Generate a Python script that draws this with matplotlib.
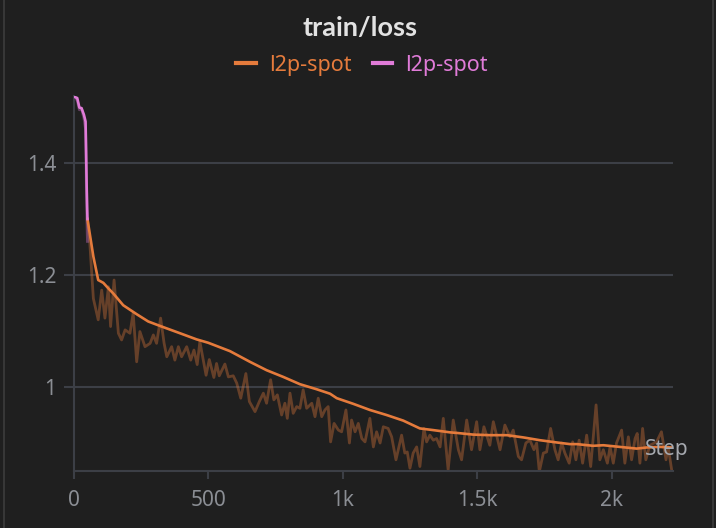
import matplotlib
matplotlib.use('Agg')
import matplotlib.pyplot as plt
from matplotlib.lines import Line2D

# run 1 (pink) - first few steps only
pink_steps = [2, 12, 20, 28, 37, 43, 45, 47, 50]
pink_smooth = [1.518, 1.516, 1.499, 1.498, 1.486, 1.474, 1.42, 1.36, 1.30]
pink_raw = [1.518, 1.512, 1.495, 1.497, 1.48, 1.46, 1.40, 1.32, 1.26]

# run 2 (orange) - smoothed line
orange_steps = [50, 72, 90, 109, 128, 146, 183, 233, 276, 320, 394, 456, 499, 580, 654,
                716, 778, 840, 902, 952, 977, 1038, 1100, 1162, 1224, 1286, 1336, 1398,
                1423, 1484, 1546, 1609, 1670, 1732, 1794, 1844, 1869, 1930, 1968, 2030,
                2092, 2129, 2178, 2222]
orange_smooth = [1.30, 1.233, 1.191, 1.186, 1.176, 1.167, 1.146, 1.130, 1.117, 1.109, 1.096,
                 1.085, 1.079, 1.064, 1.045, 1.030, 1.018, 1.005, 0.996, 0.988, 0.980, 0.970,
                 0.959, 0.950, 0.940, 0.926, 0.923, 0.919, 0.918, 0.915, 0.914, 0.914, 0.910,
                 0.905, 0.901, 0.898, 0.898, 0.895, 0.896, 0.893, 0.890, 0.892, 0.893, 0.892]

# run 2 (orange) - raw values
raw_steps = [50, 59, 72, 90, 103, 115, 128, 136, 149, 165, 177, 190, 208, 220, 233, 245, 264,
             283, 295, 307, 322, 335, 345, 363, 375, 388, 400, 419, 434, 446, 458, 468, 491,
             503, 520, 530, 540, 561, 574, 592, 605, 620, 639, 652, 673, 689, 704, 716, 731,
             743, 756, 772, 784, 793, 803, 815, 828, 840, 852, 865, 884, 896, 908, 921, 933,
             945, 954, 967, 983, 995, 1011, 1024, 1032, 1045, 1057, 1070, 1082, 1100, 1113,
             1125, 1138, 1150, 1168, 1181, 1197, 1218, 1230, 1239, 1249, 1261, 1274, 1286,
             1301, 1311, 1323, 1336, 1348, 1361, 1373, 1391, 1410, 1429, 1441, 1460, 1478,
             1497, 1509, 1524, 1546, 1559, 1584, 1602, 1621, 1633, 1652, 1664, 1680, 1695,
             1710, 1720, 1730, 1745, 1757, 1772, 1788, 1800, 1813, 1825, 1841, 1854, 1866,
             1878, 1891, 1906, 1921, 1941, 1955, 1968, 1983, 1993, 2005, 2017, 2036, 2048,
             2061, 2073, 2086, 2094, 2104, 2114, 2126, 2141, 2166, 2184, 2201, 2209, 2222]
raw_vals = [1.30, 1.255, 1.158, 1.120, 1.173, 1.123, 1.179, 1.108, 1.191, 1.096, 1.084, 1.102,
            1.096, 1.132, 1.045, 1.099, 1.072, 1.078, 1.093, 1.078, 1.123, 1.078, 1.054, 1.072,
            1.048, 1.072, 1.054, 1.072, 1.048, 1.066, 1.040, 1.081, 1.021, 1.049, 1.017, 1.042,
            1.020, 1.041, 1.018, 1.020, 1.007, 0.980, 1.024, 0.974, 0.956, 0.974, 0.989, 0.971,
            1.013, 0.977, 0.986, 0.950, 0.971, 0.944, 0.989, 0.953, 0.965, 0.962, 0.995, 0.962,
            0.971, 0.947, 0.980, 0.947, 0.959, 0.965, 0.902, 0.935, 0.923, 0.920, 0.959, 0.900,
            0.941, 0.920, 0.935, 0.908, 0.902, 0.944, 0.893, 0.920, 0.900, 0.929, 0.926, 0.911,
            0.870, 0.914, 0.882, 0.884, 0.855, 0.882, 0.893, 0.858, 0.926, 0.902, 0.914, 0.905,
            0.908, 0.893, 0.944, 0.852, 0.941, 0.888, 0.870, 0.941, 0.888, 0.938, 0.888, 0.929,
            0.896, 0.938, 0.888, 0.932, 0.911, 0.923, 0.876, 0.870, 0.900, 0.905, 0.888, 0.900,
            0.849, 0.882, 0.884, 0.926, 0.888, 0.870, 0.900, 0.882, 0.864, 0.902, 0.870, 0.905,
            0.864, 0.914, 0.858, 0.968, 0.870, 0.888, 0.864, 0.893, 0.864, 0.900, 0.923, 0.864,
            0.911, 0.870, 0.908, 0.917, 0.864, 0.926, 0.870, 0.896, 0.902, 0.920, 0.870, 0.893,
            0.852]

yticks = [1.0, 1.2, 1.4]
ytick_labels = ['1', '1.2', '1.4']
xticks = [0, 500, 1000, 1500, 2000]
xtick_labels = ['0', '500', '1k', '1.5k', '2k']

bg = '#1f1f1f'
grid_c = '#3c3f46'
label_c = '#8b8e94'
orange = '#e57b3c'
pink = '#e07bd8'

plt.rcParams['font.family'] = ['Noto Sans', 'DejaVu Sans']

fig = plt.figure(figsize=(7.16, 5.28), dpi=100, facecolor=bg)
ax = fig.add_axes([74/716, 57/528, 599/716, 375.2/528], facecolor=bg)

ax.plot(raw_steps, raw_vals, color=orange, alpha=0.36, lw=2.0, zorder=2)
ax.plot(pink_steps, pink_raw, color=pink, alpha=0.36, lw=2.0, zorder=2)
ax.plot(orange_steps, orange_smooth, color=orange, lw=1.9, zorder=3)
ax.plot(pink_steps, pink_smooth, color=pink, lw=1.9, zorder=3)

ax.set_xlim(0, 2227)
ax.set_ylim(0.85, 1.52)
ax.set_yticks(yticks)
ax.set_yticklabels(ytick_labels)
ax.set_xticks(xticks)
ax.set_xticklabels(xtick_labels)
ax.yaxis.grid(True, color=grid_c, lw=1.5, zorder=1)
ax.set_axisbelow(True)
for s in ['top', 'right']:
    ax.spines[s].set_visible(False)
for s in ['left', 'bottom']:
    ax.spines[s].set_color(grid_c)
    ax.spines[s].set_linewidth(1.5)
ax.tick_params(axis='y', length=7.2, width=1.5, color=grid_c, pad=5.5,
               labelsize=15, labelcolor=label_c)
ax.tick_params(axis='x', length=6, width=1.5, color=grid_c, pad=8,
               labelsize=15, labelcolor=label_c)

fig.text(360/716, 1 - 28/528, 'train/loss', ha='center', va='center',
         fontsize=19.5, fontweight='bold', color='#e2e2e2', family=['Lato', 'DejaVu Sans'])

handles = [Line2D([], [], color=orange, lw=3), Line2D([], [], color=pink, lw=3)]
fig.legend(handles, ['l2p-spot', 'l2p-spot'], loc='center',
           bbox_to_anchor=(362/716, 1 - 65/528), ncol=2, frameon=False,
           fontsize=15.5, handlelength=0.9, handletextpad=0.6, columnspacing=1.0,
           labelcolor=[orange, pink])

fig.text(645/716, 1 - 449/528, 'Step', ha='left', va='center', fontsize=15,
         color='#a5a8ae', zorder=10)

# panel borders
fig.add_artist(Line2D([4/716, 4/716], [0, 1], color='#3d3d3d', lw=1.2))
fig.add_artist(Line2D([713/716, 713/716], [0, 1], color='#3d3d3d', lw=1.2))

fig.savefig('out.png', dpi=100, facecolor=bg)
